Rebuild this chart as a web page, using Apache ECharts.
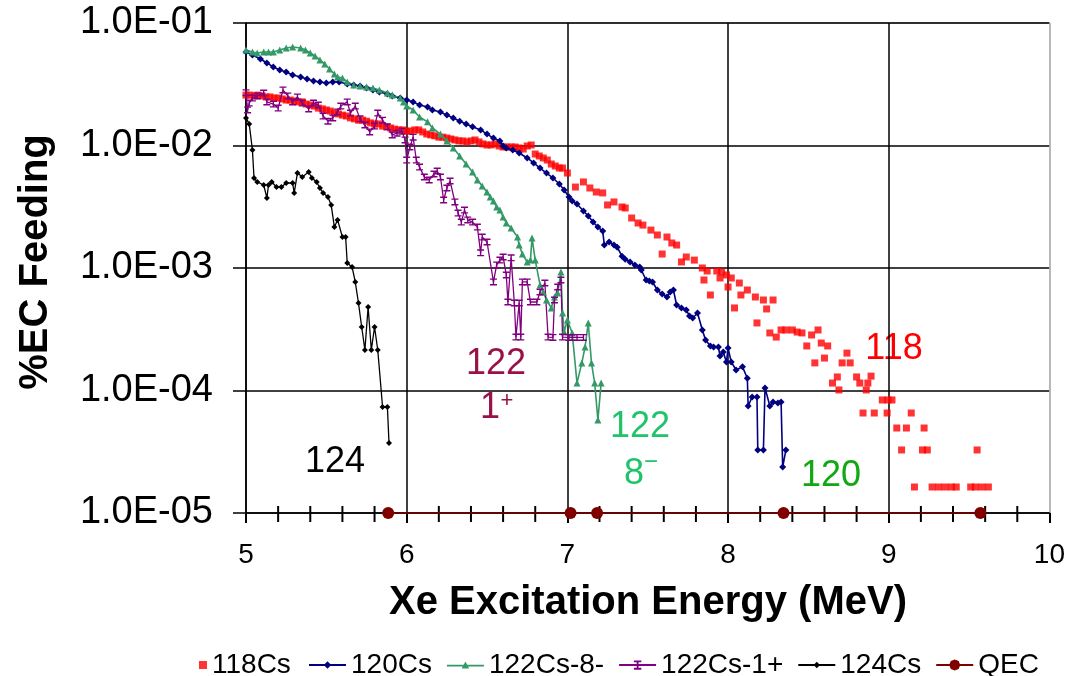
<!DOCTYPE html>
<html><head><meta charset="utf-8">
<script src="https://cdn.jsdelivr.net/npm/echarts@6/dist/echarts.min.js"></script>
<style>html,body{margin:0;padding:0;background:#fff}#c{width:1068px;height:676px}</style>
</head><body><div id="c"></div>
<script>
const FONT = "'Liberation Sans', Arial, Helvetica, sans-serif";
const xTickValues = [5, 6, 7, 8, 9, 10];
const xMinorTickValues = [5.2, 5.4, 5.6, 5.8, 6.2, 6.4, 6.6, 6.8, 7.2, 7.4, 7.6, 7.8, 8.2, 8.4, 8.6, 8.8, 9.2, 9.4, 9.6, 9.8];
const yTickValues = [1e-5, 1e-4, 1e-3, 1e-2, 1e-1];
const seriesNames = ['118Cs', '120Cs', '122Cs-8-', '122Cs-1+', '124Cs', 'QEC'];

const cs118 = [
[5.000,0.0258],[5.025,0.0258],[5.050,0.0254],[5.075,0.0258],[5.100,0.0254],[5.125,0.0249],[5.150,0.0249],[5.175,0.0244],[5.200,0.0244],[5.225,0.0240],
[5.250,0.0235],[5.275,0.0235],[5.300,0.0231],[5.325,0.0227],[5.350,0.0227],[5.375,0.0218],[5.400,0.0214],[5.425,0.0210],[5.450,0.0202],[5.475,0.0199],
[5.500,0.0195],[5.525,0.0191],[5.550,0.0184],[5.575,0.0181],[5.600,0.0177],[5.625,0.0174],[5.650,0.0168],[5.675,0.0165],[5.700,0.0161],[5.725,0.0161],
[5.750,0.0158],[5.775,0.0153],[5.800,0.0150],[5.825,0.0150],[5.850,0.0144],[5.875,0.0142],[5.900,0.0139],[5.925,0.0136],[5.950,0.0134],[5.975,0.0134],
[6.000,0.0131],[6.025,0.0131],[6.050,0.0134],[6.075,0.0134],[6.100,0.0129],[6.125,0.0124],[6.150,0.0122],[6.175,0.0120],[6.200,0.0117],[6.225,0.0117],
[6.250,0.0115],[6.275,0.0113],[6.300,0.0111],[6.325,0.0109],[6.350,0.0109],[6.375,0.0107],[6.400,0.0109],[6.425,0.0111],[6.450,0.0107],[6.475,0.0103],
[6.500,0.0101],[6.525,0.0101],[6.550,0.0103],[6.575,0.00991],[6.600,0.00972],[6.625,0.00972],[6.650,0.00972],[6.675,0.00972],[6.700,0.00954],[6.725,0.00936],
[6.750,0.00991],[6.775,0.0101],[6.800,0.00852],[6.825,0.00821],[6.850,0.00791],[6.875,0.00761],[6.900,0.00706],[6.925,0.00680],[6.950,0.00655],[6.970,0.00655],
[7.00,0.00596],[7.05,0.00458],[7.10,0.00504],[7.14,0.00450],[7.18,0.00417],[7.22,0.00410],[7.25,0.00327],[7.29,0.00346],[7.34,0.00315],[7.36,0.00309],
[7.40,0.00256],[7.44,0.00233],[7.47,0.00224],[7.52,0.00204],[7.56,0.00186],[7.59,0.00130],[7.62,0.00179],[7.65,0.00160],[7.68,0.00154],[7.71,0.00112],
[7.74,0.00123],[7.79,0.00116],[7.84,0.00100],[7.85,0.000798],[7.87,0.000945],[7.89,0.000602],[7.93,0.000945],[7.95,0.000829],[7.96,0.000927],[7.99,0.000877],
[8.00,0.000700],[8.02,0.000829],[8.04,0.000472],[8.07,0.000754],[8.08,0.000602],[8.12,0.000661],[8.17,0.000580],[8.18,0.000356],[8.22,0.000548],[8.24,0.000463],
[8.26,0.000295],[8.28,0.000548],[8.30,0.000273],[8.33,0.000312],[8.36,0.000312],[8.40,0.000312],[8.43,0.000300],[8.46,0.000295],[8.49,0.000231],[8.52,0.000284],
[8.54,0.000168],[8.56,0.000312],[8.58,0.000244],[8.60,0.000184],[8.62,0.000231],[8.65,0.000115],[8.68,0.000129],[8.69,0.000101],[8.71,0.000168],[8.74,0.000202],
[8.76,0.000168],[8.80,0.000129],[8.82,0.000115],[8.84,6.55e-5],[8.86,0.000101],[8.87,0.000115],[8.89,0.000131],[8.91,6.55e-5],[8.96,8.37e-5],[8.99,6.55e-5],
[8.995,8.37e-5],[9.02,8.37e-5],[9.05,4.94e-5],[9.08,3.27e-5],[9.11,4.94e-5],[9.14,6.55e-5],[9.16,1.63e-5],[9.21,3.27e-5],[9.22,4.94e-5],[9.24,3.27e-5],
[9.27,1.63e-5],[9.31,1.63e-5],[9.35,1.63e-5],[9.39,1.63e-5],[9.42,1.63e-5],[9.51,1.63e-5],[9.54,1.63e-5],[9.55,3.27e-5],[9.58,1.63e-5],[9.62,1.63e-5]
];

const cs120 = [
[5.00,0.0580],[5.04,0.0548],[5.09,0.0508],[5.13,0.0472],[5.17,0.0437],[5.21,0.0413],[5.25,0.0398],[5.29,0.0376],[5.34,0.0362],[5.38,0.0349],
[5.42,0.0336],[5.46,0.0330],[5.50,0.0324],[5.54,0.0330],[5.58,0.0330],[5.63,0.0318],[5.67,0.0312],[5.71,0.0306],[5.75,0.0295],[5.79,0.0284],
[5.83,0.0273],[5.88,0.0263],[5.91,0.0254],[5.96,0.0244],[6.00,0.0235],[6.04,0.0227],[6.08,0.0214],[6.13,0.0206],[6.16,0.0195],[6.21,0.0188],
[6.25,0.0177],[6.29,0.0168],[6.33,0.0158],[6.37,0.0150],[6.41,0.0142],[6.46,0.0134],[6.50,0.0124],[6.54,0.0115],[6.58,0.0109],[6.60,0.00991],
[6.62,0.00954],[6.66,0.00919],[6.70,0.00869],[6.75,0.00791],[6.79,0.00720],[6.83,0.00655],[6.87,0.00596],[6.91,0.00543],[6.95,0.00485],[6.98,0.00433],
[7.01,0.00380],[7.03,0.00352],[7.06,0.00333],[7.10,0.00292],[7.13,0.00266],[7.16,0.00237],[7.19,0.00216],[7.22,0.00200],[7.23,0.00154],[7.26,0.00163],
[7.29,0.00154],[7.31,0.00148],[7.34,0.00125],[7.36,0.00118],[7.39,0.00112],[7.42,0.00106],[7.45,0.00102],[7.46,0.000963],[7.49,0.000798],[7.51,0.000783],
[7.53,0.000769],[7.56,0.000661],[7.59,0.000613],[7.62,0.000580],[7.64,0.000637],[7.66,0.000661],[7.68,0.000499],[7.71,0.000472],[7.74,0.000454],[7.76,0.000406],
[7.78,0.000391],[7.81,0.000429],[7.84,0.000312],[7.86,0.000258],[7.89,0.000231],[7.91,0.000226],[7.94,0.000226],[7.95,0.000191],[7.97,0.000206],[7.99,0.000171],
[8.00,0.000222],[8.02,0.000171],[8.05,0.000147],[8.09,0.000156],[8.12,0.000126],[8.125,7.47e-5],[8.15,8.85e-5],[8.18,8.85e-5],[8.185,3.27e-5],[8.22,3.27e-5],
[8.23,0.000105],[8.26,7.47e-5],[8.28,8.05e-5],[8.31,7.91e-5],[8.33,8.05e-5],[8.34,2.37e-5],[8.36,3.27e-5]
];

const cs122m8 = [
[5.00,0.0602],[5.04,0.0580],[5.07,0.0569],[5.11,0.0580],[5.14,0.0580],[5.17,0.0580],[5.21,0.0602],[5.25,0.0625],[5.29,0.0637],[5.34,0.0625],
[5.37,0.0602],[5.40,0.0569],[5.43,0.0538],[5.46,0.0499],[5.49,0.0463],[5.52,0.0421],[5.55,0.0383],[5.57,0.0362],[5.60,0.0356],[5.63,0.0330],
[5.67,0.0312],[5.71,0.0306],[5.75,0.0300],[5.79,0.0295],[5.83,0.0284],[5.88,0.0268],[5.91,0.0258],[5.96,0.0244],[5.98,0.0227],[6.00,0.0210],
[6.04,0.0195],[6.08,0.0171],[6.13,0.0156],[6.16,0.0139],[6.21,0.0124],[6.25,0.0109],[6.29,0.00954],[6.33,0.00821],[6.37,0.00706],[6.41,0.00608],
[6.44,0.00523],[6.47,0.00467],[6.50,0.00417],[6.52,0.00380],[6.54,0.00352],[6.56,0.00315],[6.58,0.00297],[6.60,0.00261],[6.62,0.00233],[6.65,0.00212],
[6.69,0.00179],[6.70,0.00154],[6.72,0.00130],[6.75,0.00112],[6.77,0.00116],[6.78,0.00176],[6.80,0.00116],[6.83,0.000727],[6.85,0.000637],[6.87,0.000548],
[6.90,0.000472],[6.92,0.000580],[6.94,0.000625],[6.96,0.000927],[6.97,0.000429],[6.98,0.000300],[7.00,0.000376],[7.03,0.000295],[7.06,0.000115],[7.09,0.000168],
[7.11,0.000226],[7.13,0.000356],[7.15,0.000168],[7.17,0.000115],[7.19,5.74e-5],[7.21,0.000115]
];

const cs122p1 = [
[5.00,0.0270],[5.01,0.0195],[5.02,0.0222],[5.04,0.0244],[5.07,0.0254],[5.11,0.0268],[5.13,0.0227],[5.17,0.0218],[5.20,0.0202],[5.23,0.0284],
[5.26,0.0254],[5.29,0.0227],[5.32,0.0249],[5.35,0.0222],[5.39,0.0199],[5.42,0.0222],[5.45,0.0214],[5.48,0.0174],[5.51,0.0158],[5.54,0.0168],
[5.57,0.0188],[5.59,0.0210],[5.63,0.0227],[5.65,0.0184],[5.68,0.0210],[5.71,0.0165],[5.74,0.0147],[5.77,0.0129],[5.80,0.0144],[5.82,0.0184],
[5.85,0.0161],[5.88,0.0142],[5.91,0.0122],[5.94,0.0126],[5.97,0.0131],[5.99,0.0111],[6.00,0.00761],[6.02,0.00972],[6.04,0.0117],[6.06,0.00761],
[6.08,0.00667],[6.11,0.00553],[6.14,0.00523],[6.17,0.00585],[6.19,0.00619],[6.21,0.00553],[6.23,0.00359],[6.25,0.00450],[6.27,0.00513],[6.30,0.00346],
[6.32,0.00281],[6.34,0.00237],[6.36,0.00297],[6.38,0.00247],[6.41,0.00237],[6.44,0.00216],[6.46,0.00133],[6.47,0.00179],[6.50,0.00163],[6.54,0.000769],
[6.56,0.00106],[6.58,0.00116],[6.60,0.00123],[6.62,0.000877],[6.63,0.000528],[6.65,0.00121],[6.67,0.000518],[6.68,0.000273],[6.70,0.000518],[6.71,0.000273],
[6.72,0.000769],[6.75,0.000769],[6.77,0.000528],[6.81,0.000528],[6.83,0.000637],[6.86,0.000754],[6.88,0.000273],[6.91,0.000271],[6.92,0.000548],[6.94,0.000700],
[6.96,0.000798],[6.97,0.000273],[7.01,0.000271],[7.03,0.000271],[7.06,0.000271],[7.10,0.000271]
];

const cs124 = [
[5.00,0.0168],[5.02,0.0150],[5.04,0.00919],[5.05,0.00543],[5.07,0.00504],[5.11,0.00476],[5.13,0.00373],[5.14,0.00476],[5.16,0.00504],[5.19,0.00458],
[5.22,0.00458],[5.25,0.00494],[5.29,0.00494],[5.30,0.00410],[5.32,0.00596],[5.35,0.00553],[5.39,0.00608],[5.41,0.00543],[5.44,0.00504],[5.46,0.00450],
[5.48,0.00410],[5.51,0.00380],[5.53,0.00327],[5.55,0.00216],[5.57,0.00247],[5.60,0.00179],[5.62,0.00179],[5.63,0.00110],[5.66,0.00102],[5.68,0.000769],
[5.70,0.000518],[5.72,0.00033],[5.74,0.000214],[5.76,0.00048],[5.78,0.000214],[5.80,0.00033],[5.82,0.000214],[5.85,7.33e-5],[5.88,7.33e-5],[5.89,3.73e-5]
];

const qec = [[5.885,1e-5],[7.02,1e-5],[7.185,1e-5],[8.345,1e-5],[9.57,1e-5]];

const chart = echarts.init(document.getElementById('c'), null, {renderer: 'canvas'});

function yLabel(v) {
  const e = Math.round(Math.log10(v));
  if (!yTickValues.some(t => Math.abs(Math.log10(t) - e) < 1e-6)) return '';
  return '1.0E-' + String(-e).padStart(2, '0');
}

const axisText = {color: '#000', fontFamily: FONT};
const ICON_LINE = 'M0,9H40V11H0Z';
const icons = {
  '120Cs': 'path://' + ICON_LINE + ' M20,6L24,10L20,14L16,10Z',
  '122Cs-8-': 'path://' + ICON_LINE + ' M20,5.5L24,13H16Z',
  '122Cs-1+': 'path://' + ICON_LINE + ' M16,5H24V7H21V13H24V15H16V13H19V7H16Z',
  '124Cs': 'path://' + ICON_LINE + ' M20,6.5L23.5,10L20,13.5L16.5,10Z',
  'QEC': 'path://' + ICON_LINE + ' M26,10L24.24,14.24L20,16L15.76,14.24L14,10L15.76,5.76L20,4L24.24,5.76Z'
};

const xMin = xTickValues[0], xMax = xTickValues[xTickValues.length - 1];
const yMin = yTickValues[0], yMax = yTickValues[yTickValues.length - 1];

const option = {
  backgroundColor: '#fff',
  animation: false,
  grid: {left: 246, right: 18, top: 23, bottom: 163},
  xAxis: {
    type: 'value', min: xMin, max: xMax, interval: 1,
    axisLine: {show: true, lineStyle: {color: '#000', width: 1.5}},
    axisTick: {show: true, length: 10, lineStyle: {color: '#000', width: 2}},
    splitLine: {show: true, lineStyle: {color: ['#000', '#000', '#000', '#000', '#000', '#a0a0a0'], width: 1.5}},
    axisLabel: Object.assign({fontSize: 28, margin: 28}, axisText)
  },
  yAxis: {
    type: 'log', logBase: 10, min: yMin, max: yMax,
    axisLine: {show: true, lineStyle: {color: '#000', width: 1.5}},
    axisTick: {show: true, length: 13, lineStyle: {color: '#000', width: 1.5}},
    minorTick: {show: false},
    splitLine: {show: true, lineStyle: {color: ['#000', '#000', '#000', '#000', '#a0a0a0'], width: 1.5}},
    axisLabel: Object.assign({fontSize: 38, margin: 33, formatter: yLabel}, axisText)
  },
  legend: [{
    data: [seriesNames[0]], left: 194, top: 646, itemWidth: 8, itemHeight: 8, icon: 'rect',
    selectedMode: false, textStyle: {fontSize: 28, color: '#000', fontFamily: FONT}
  }, {
    data: seriesNames.slice(1).map(n => ({name: n, icon: icons[n]})),
    left: 304, top: 646, itemWidth: 37, itemHeight: 14, itemGap: 15,
    selectedMode: false, textStyle: {fontSize: 28, color: '#000', fontFamily: FONT}
  }],
  series: [
    {name: 'xMinorTicks', type: 'custom', data: xMinorTickValues.map(v => [v, yMin]),
     clip: false, silent: true, z: 3,
     renderItem: function (params, api) {
       const p = api.coord([api.value(0), api.value(1)]);
       return {type: 'line', shape: {x1: p[0], y1: p[1] - 7, x2: p[0], y2: p[1] + 9},
               style: {stroke: '#000', lineWidth: 2}};
     }},
    {name: seriesNames[0], type: 'scatter', data: cs118, symbol: 'rect', symbolSize: 7,
     itemStyle: {color: '#ff0000'}},
    {name: seriesNames[1], type: 'line', data: cs120, symbol: 'diamond', symbolSize: 7,
     lineStyle: {color: '#000080', width: 1.6}, itemStyle: {color: '#000080'}},
    {name: seriesNames[2], type: 'line', data: cs122m8, symbol: 'triangle', symbolSize: 7,
     lineStyle: {color: '#339966', width: 1.6}, itemStyle: {color: '#339966'}},
    {name: seriesNames[3], type: 'line', data: cs122p1,
     symbol: 'path://M0,0H10V2H6V8H10V10H0V8H4V2H0Z', symbolSize: [7, 7],
     lineStyle: {color: '#800080', width: 1.3}, itemStyle: {color: '#800080'}},
    {name: seriesNames[4], type: 'line', data: cs124, symbol: 'diamond', symbolSize: 6,
     lineStyle: {color: '#000000', width: 1.3}, itemStyle: {color: '#000000'}},
    {name: seriesNames[5], type: 'line', data: qec, symbol: 'circle', symbolSize: 12, clip: false,
     lineStyle: {color: '#800000', width: 1.5}, itemStyle: {color: '#800000'}, z: 5}
  ],
  graphic: {elements: [
    {type: 'text', x: 648, y: 603, style: {text: 'Xe Excitation Energy (MeV)', font: 'bold 40px ' + FONT, fill: '#000', align: 'center', verticalAlign: 'middle'}},
    {type: 'text', x: 36, y: 262, rotation: Math.PI / 2, style: {text: '%EC Feeding', font: 'bold 40px ' + FONT, fill: '#000', align: 'center', verticalAlign: 'middle'}},
    {type: 'text', x: 496, y: 364, style: {text: '122', font: '36px ' + FONT, fill: '#9a1048', align: 'center', verticalAlign: 'middle'}},
    {type: 'text', x: 490, y: 408, style: {text: '1', font: '36px ' + FONT, fill: '#9a1048', align: 'center', verticalAlign: 'middle'}},
    {type: 'text', x: 507, y: 401, style: {text: '+', font: '22px ' + FONT, fill: '#9a1048', align: 'center', verticalAlign: 'middle'}},
    {type: 'text', x: 640, y: 427, style: {text: '122', font: '36px ' + FONT, fill: '#1fc46a', align: 'center', verticalAlign: 'middle'}},
    {type: 'text', x: 634, y: 474, style: {text: '8', font: '36px ' + FONT, fill: '#1fc46a', align: 'center', verticalAlign: 'middle'}},
    {type: 'text', x: 651, y: 462, style: {text: '\u2212', font: '24px ' + FONT, fill: '#1fc46a', align: 'center', verticalAlign: 'middle'}},
    {type: 'text', x: 335, y: 462, style: {text: '124', font: '36px ' + FONT, fill: '#000', align: 'center', verticalAlign: 'middle'}},
    {type: 'text', x: 831, y: 476, style: {text: '120', font: '36px ' + FONT, fill: '#11a811', align: 'center', verticalAlign: 'middle'}},
    {type: 'text', x: 894, y: 349, style: {text: '118', font: '36px ' + FONT, fill: '#ff0000', align: 'center', verticalAlign: 'middle'}}
  ]}
};
chart.setOption(option);
</script>
</body></html>
